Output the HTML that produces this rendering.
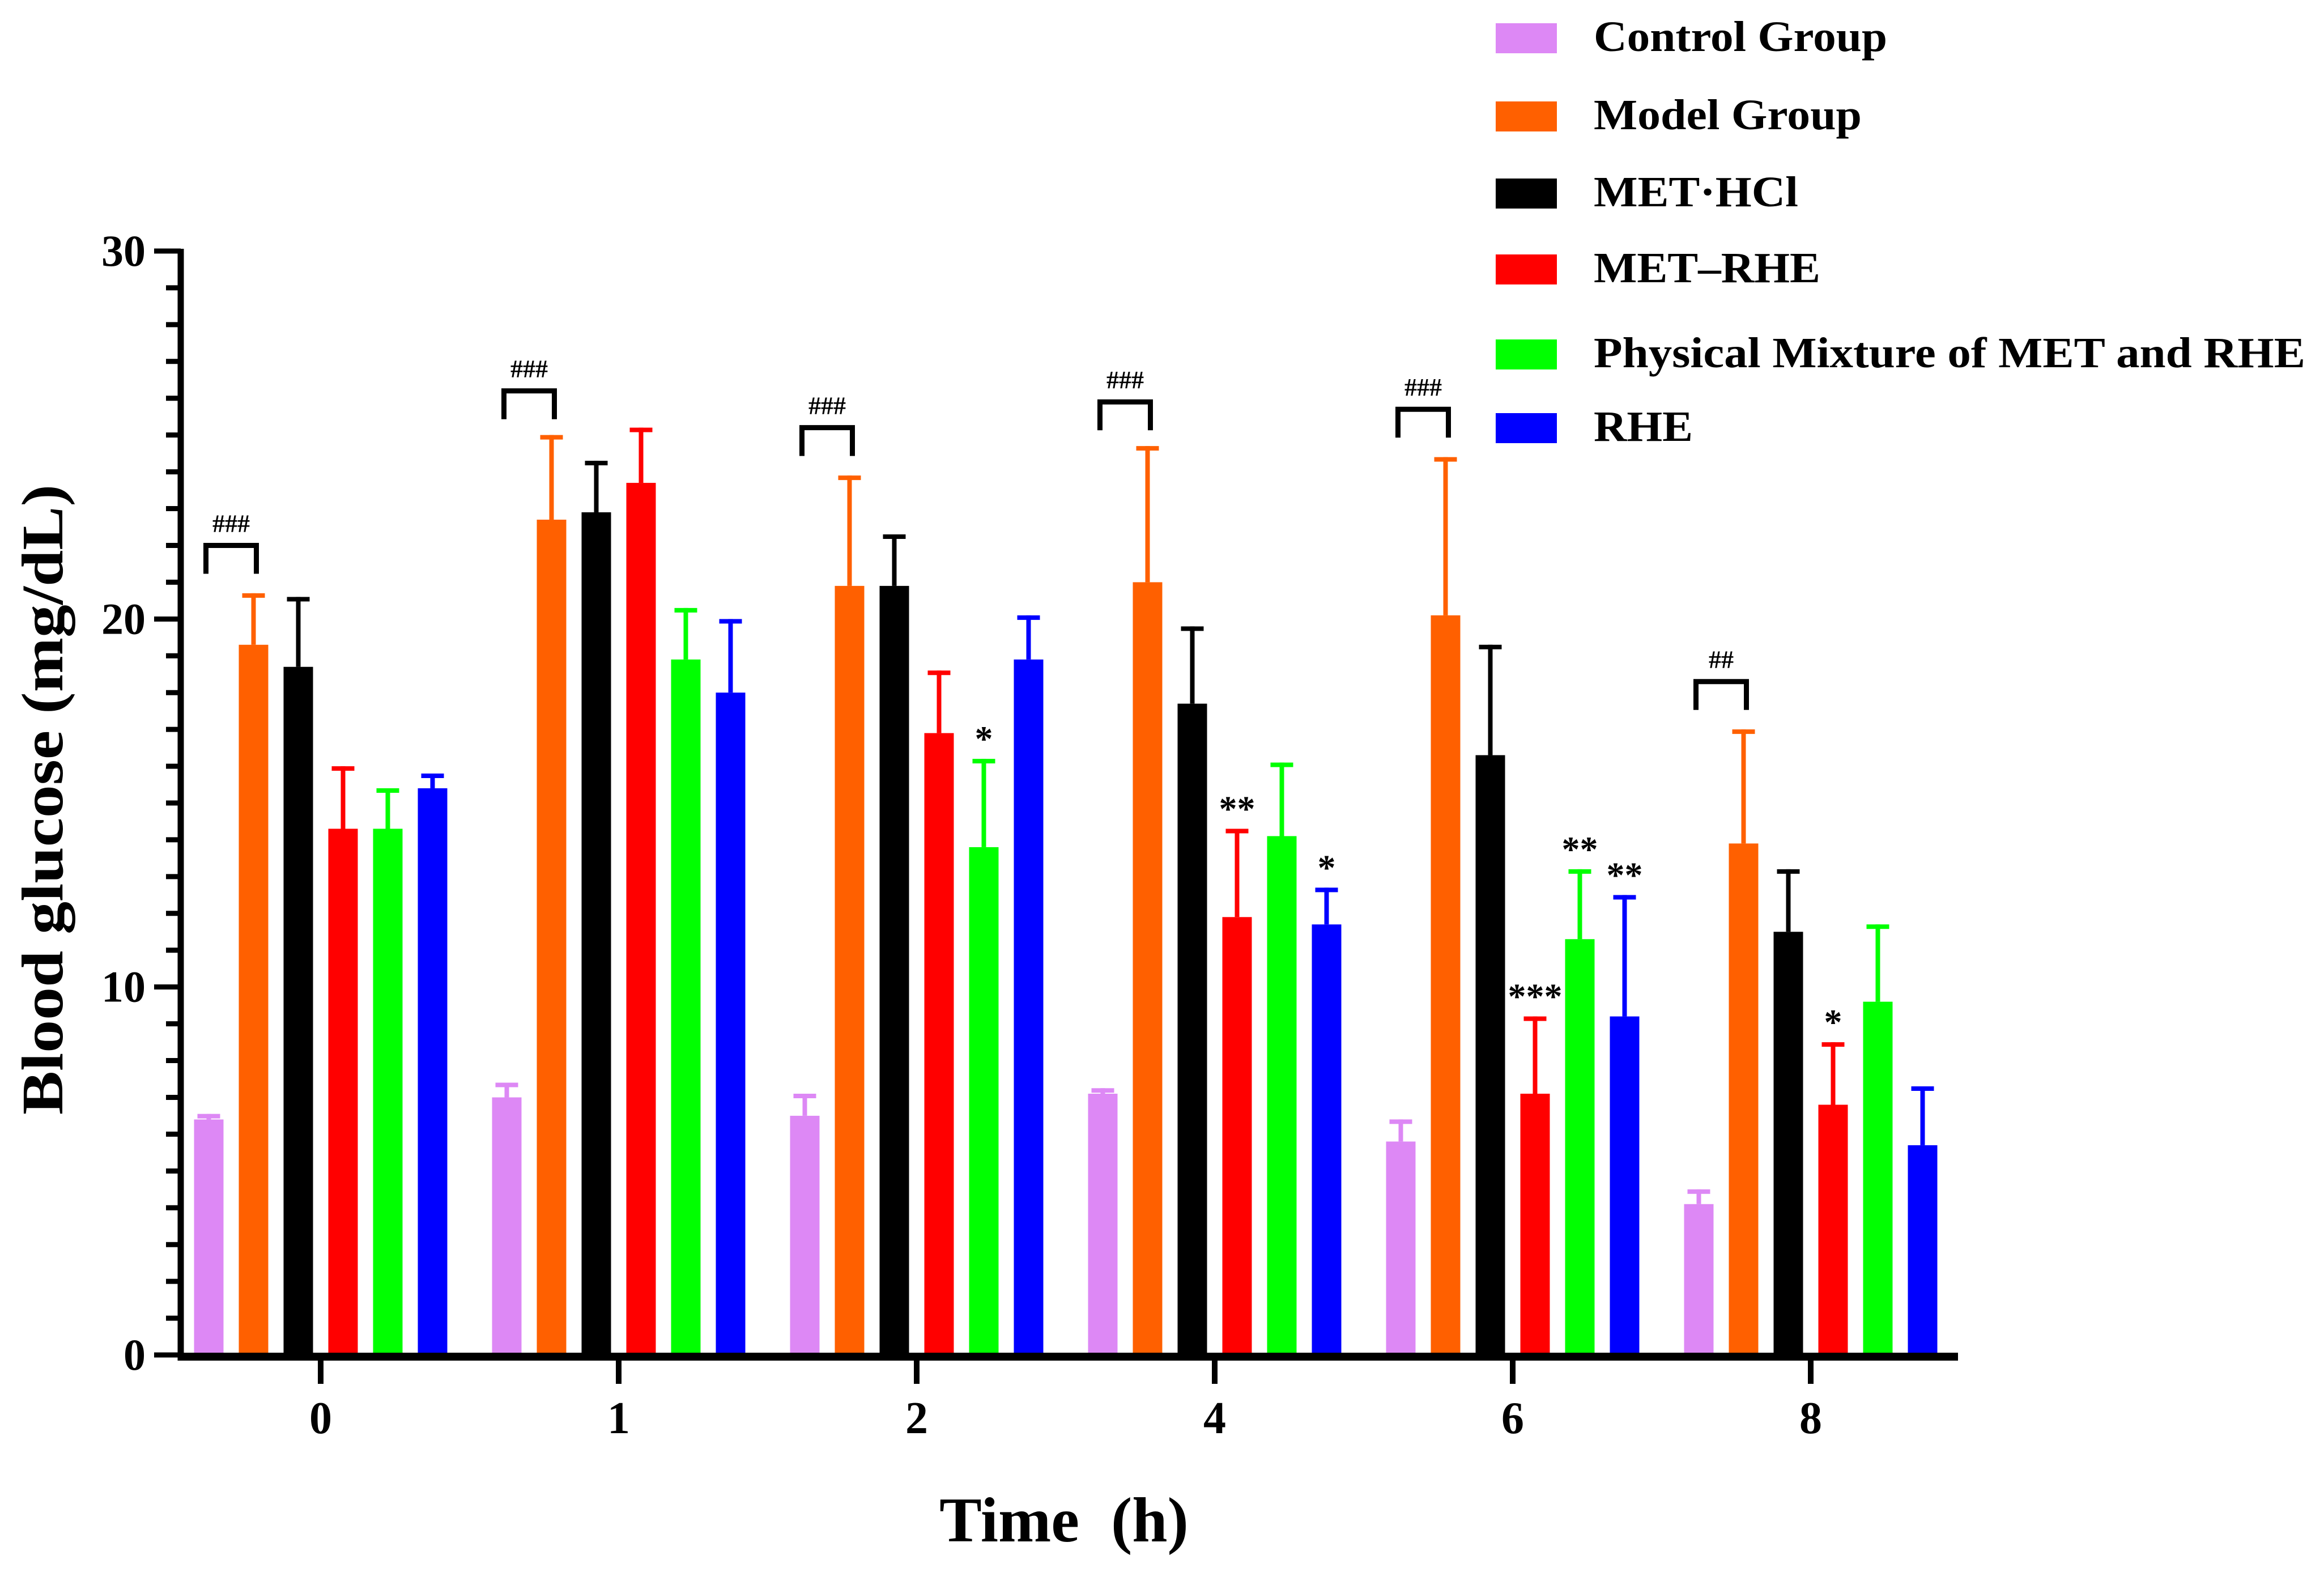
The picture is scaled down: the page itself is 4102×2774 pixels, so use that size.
<!DOCTYPE html>
<html><head><meta charset="utf-8"><style>
html,body{margin:0;padding:0;background:#fff;}
svg{display:block;}
text{font-family:"Liberation Serif",serif;font-weight:bold;fill:#000;}
</style></head><body>
<svg id="chart" width="4102" height="2774" viewBox="0 0 4102 2774" xmlns="http://www.w3.org/2000/svg">
<g id="plot"></g>
<g id="axes"></g>
<g id="annot"></g>
<g id="legend"></g>
<text transform="translate(110,1411) rotate(-90)" text-anchor="middle" font-size="104" textLength="1112" lengthAdjust="spacingAndGlyphs">Blood glucose (mg/dL)</text>
<text x="1878" y="2720" text-anchor="middle" font-size="112" xml:space="preserve">Time  (h)</text>
</svg>
<script>
const categories = ["0","1","2","4","6","8"];
const seriesNames = ["Control Group","Model Group","MET·HCl","MET–RHE","Physical Mixture of MET and RHE","RHE"];
const seriesColors = ["#dd88f5","#ff6000","#000000","#ff0000","#00ff00","#0000ff"];
const controlMean = [6.4,7.0,6.5,7.1,5.8,4.1];
const controlErr  = [6.55,7.4,7.1,7.25,6.4,4.5];
const modelMean   = [19.3,22.7,20.9,21.0,20.1,13.9];
const modelErr    = [20.7,25.0,23.9,24.7,24.4,17.0];
const metHclMean  = [18.7,22.9,20.9,17.7,16.3,11.5];
const metHclErr   = [20.6,24.3,22.3,19.8,19.3,13.2];
const metRheMean  = [14.3,23.7,16.9,11.9,7.1,6.8];
const metRheErr   = [16.0,25.2,18.6,14.3,9.2,8.5];
const mixMean     = [14.3,18.9,13.8,14.1,11.3,9.6];
const mixErr      = [15.4,20.3,16.2,16.1,13.2,11.7];
const rheMean     = [15.4,18.0,18.9,11.7,9.2,5.7];
const rheErr      = [15.8,20.0,20.1,12.7,12.5,7.3];
const bracketLabels = ["###","###","###","###","###","##"];
const bracketLevels = [22.0,26.2,25.2,25.9,25.7,18.3];
const starLabels = [["","","","","",""],["","","","","",""],["","","","","*",""],["","","","**","","*"],["","","","***","**","**"],["","","","*","",""]];
const yTicks = [0,10,20,30];

const means=[controlMean,modelMean,metHclMean,metRheMean,mixMean,rheMean];
const errs=[controlErr,modelErr,metHclErr,metRheErr,mixErr,rheErr];
const NS="http://www.w3.org/2000/svg";
const Y0=2391, Y30=443, XL=319, XR=3456;
function y(v){return Y0-(v/30)*(Y0-Y30);}
function gx(i){return 566+526*i;}
function bx(i,k){return gx(i)+(k-2.5)*79;}
function mk(tag,attrs,parent){const e=document.createElementNS(NS,tag);for(const a in attrs)e.setAttribute(a,attrs[a]);parent.appendChild(e);return e;}
const plot=document.getElementById('plot'),axes=document.getElementById('axes'),annot=document.getElementById('annot'),legend=document.getElementById('legend');
const BW=52;
categories.forEach((c,i)=>{
  for(let k=0;k<6;k++){
    const cx=bx(i,k),col=seriesColors[k];
    const ey=y(errs[k][i]),my=y(means[k][i]);
    const l=mk('line',{x1:cx,x2:cx,y1:ey,y2:my,stroke:col,'stroke-width':8},plot);
    
    
    const cap=mk('line',{x1:cx-20,x2:cx+20,y1:ey+4,y2:ey+4,stroke:col,'stroke-width':8},plot);
    
    
    const r=mk('rect',{x:cx-BW/2,y:my,width:BW,height:2387-my,fill:col},plot);
    
    
    const s=starLabels[i][k];
    if(s){const t=mk('text',{x:cx,y:ey-14,'text-anchor':'middle','font-size':64,'font-weight':'normal','font-family':'"Liberation Sans",sans-serif'},annot);t.textContent=s;
      
      }
  }
  const x1=bx(i,0)-5,x2=bx(i,1)+5,by=y(bracketLevels[i]);
  const p=mk('path',{d:`M${x1},${by+50} V${by} H${x2} V${by+50}`,fill:'none',stroke:'#000','stroke-width':9},annot);
  
  
  const t=mk('text',{x:(x1+x2)/2,y:by-24,'text-anchor':'middle','font-size':44,'font-weight':'normal'},annot);t.textContent=bracketLabels[i];
  
  
  const tk=mk('line',{x1:gx(i),x2:gx(i),y1:2394,y2:2442,stroke:'#000','stroke-width':10},axes);
  
  
  const tl=mk('text',{x:gx(i),y:2529,'text-anchor':'middle','font-size':80},axes);tl.textContent=c;
  
  
});
const ya=mk('line',{x1:XL,x2:XL,y1:Y30-4,y2:2401,stroke:'#000','stroke-width':11},axes);


const xa=mk('line',{x1:XL-5,x2:XR,y1:2394,y2:2394,stroke:'#000','stroke-width':14},axes);


for(let v=0;v<=30;v++){
  const major=v%10===0;
  const t=mk('line',{x1:major?272:293,x2:XL,y1:y(v),y2:y(v),stroke:'#000','stroke-width':9},axes);
  
  
}
yTicks.forEach(v=>{const t=mk('text',{x:257,y:y(v)+26,'text-anchor':'end','font-size':78},axes);t.textContent=v;
  
  });
const legY=[41,179,315,449,599,729];
const legW=[518,473,361,400,1256,175];
seriesNames.forEach((n,k)=>{
  const g=mk('g',{},legend);
  
  
  const r=mk('rect',{x:2640,y:legY[k],width:108,height:53,fill:seriesColors[k]},g);
  
  
  const t=mk('text',{x:2813,y:legY[k]+49,'font-size':76,textLength:legW[k],lengthAdjust:'spacingAndGlyphs'},g);t.textContent=n;
  
  
});
</script>
</body></html>
